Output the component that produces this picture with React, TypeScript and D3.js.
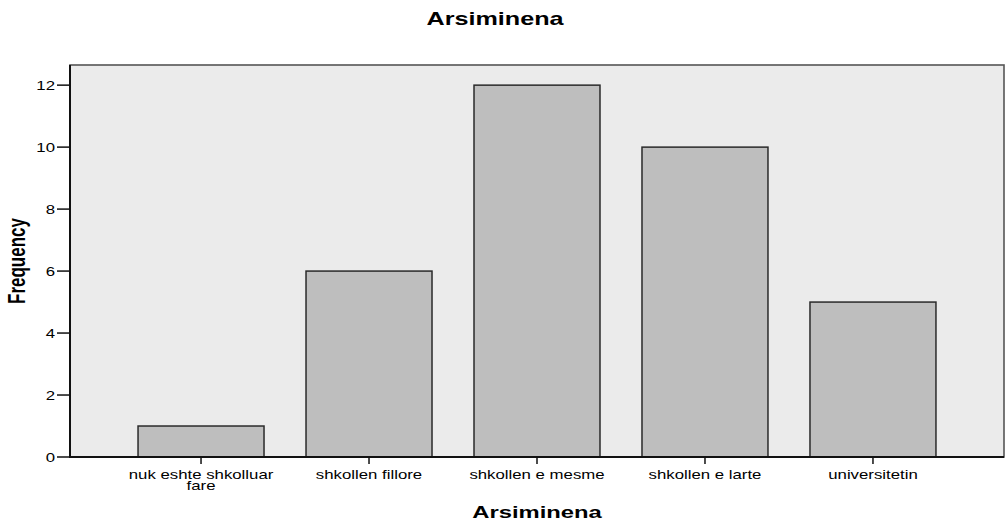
import React from "react";
import * as d3 from "d3";

const categories = [
  "nuk eshte shkolluar fare",
  "shkollen fillore",
  "shkollen e mesme",
  "shkollen e larte",
  "universitetin",
];
const categoryLines = [
  ["nuk eshte shkolluar", "fare"],
  ["shkollen fillore"],
  ["shkollen e mesme"],
  ["shkollen e larte"],
  ["universitetin"],
];
const frequencies = [1, 6, 12, 10, 5];
const yTicks = [0, 2, 4, 6, 8, 10, 12];
const yMax = 12.65;
const title = "Arsiminena";
const xTitle = "Arsiminena";
const yTitle = "Frequency";

const W = 1008;
const H = 524;
const SX = 1.4;
const FONT = "'Liberation Sans', Arial, sans-serif";

export default function App() {
  const left = 70, right = 1004, top = 65, bottom = 457;
  const x = d3
    .scaleBand<string>()
    .domain(categories)
    .range([left, right])
    .paddingInner(0.25)
    .paddingOuter(0.405);
  const y = d3.scaleLinear().domain([0, yMax]).range([bottom, top]);

  return (
    <svg
      width={W}
      height={H}
      style={{ position: "absolute", left: 0, top: 0, background: "#fff" }}
      fontFamily={FONT}
    >
      <rect x={0} y={0} width={W} height={H} fill="#fff" />
      {/* title */}
      <text
        transform={`translate(495,25) scale(${SX},1)`}
        textAnchor="middle"
        fontWeight="bold"
        fontSize={18}
        fill="#000"
      >
        {title}
      </text>
      {/* plot background */}
      <rect
        x={left}
        y={top}
        width={right - left}
        height={bottom - top}
        fill="#ebebeb"
        stroke="#555"
        strokeWidth={1.6}
      />
      {/* bars */}
      {categories.map((c, i) => (
        <rect
          key={c}
          x={x(c)}
          y={y(frequencies[i])}
          width={x.bandwidth()}
          height={y(0) - y(frequencies[i])}
          fill="#bebebe"
          stroke="#2a2a2a"
          strokeWidth={1.5}
        />
      ))}
      {/* axes lines */}
      <line x1={left} x2={left} y1={top} y2={bottom} stroke="#111" strokeWidth={2} />
      <line x1={left - 1} x2={right} y1={bottom} y2={bottom} stroke="#111" strokeWidth={2} />
      {/* y ticks */}
      {yTicks.map((t) => (
        <g key={t}>
          <line x1={left - 13} x2={left} y1={y(t)} y2={y(t)} stroke="#111" strokeWidth={1.5} />
          <text
            transform={`translate(${left - 15},${y(t) + 4.5}) scale(${SX},1)`}
            textAnchor="end"
            fontSize={12}
            fill="#000"
          >
            {t}
          </text>
        </g>
      ))}
      {/* x ticks */}
      {categories.map((c, i) => {
        const cx = (x(c) as number) + x.bandwidth() / 2;
        return (
          <g key={c}>
            <line x1={cx} x2={cx} y1={bottom} y2={bottom + 7} stroke="#111" strokeWidth={1.5} />
            {categoryLines[i].map((ln, j) => (
              <text
                key={j}
                transform={`translate(${cx},${479 + j * 11}) scale(${SX},1)`}
                textAnchor="middle"
                fontSize={12}
                fill="#000"
              >
                {ln}
              </text>
            ))}
          </g>
        );
      })}
      {/* x title */}
      <text
        transform={`translate(${(left + right) / 2},518) scale(${SX},1)`}
        textAnchor="middle"
        fontWeight="bold"
        fontSize={17}
        fill="#000"
      >
        {xTitle}
      </text>
      {/* y title */}
      <text
        transform={`translate(25,${(top + bottom) / 2}) scale(${SX},1) rotate(-90)`}
        textAnchor="middle"
        fontWeight="bold"
        fontSize={17}
        fill="#000"
      >
        {yTitle}
      </text>
    </svg>
  );
}
